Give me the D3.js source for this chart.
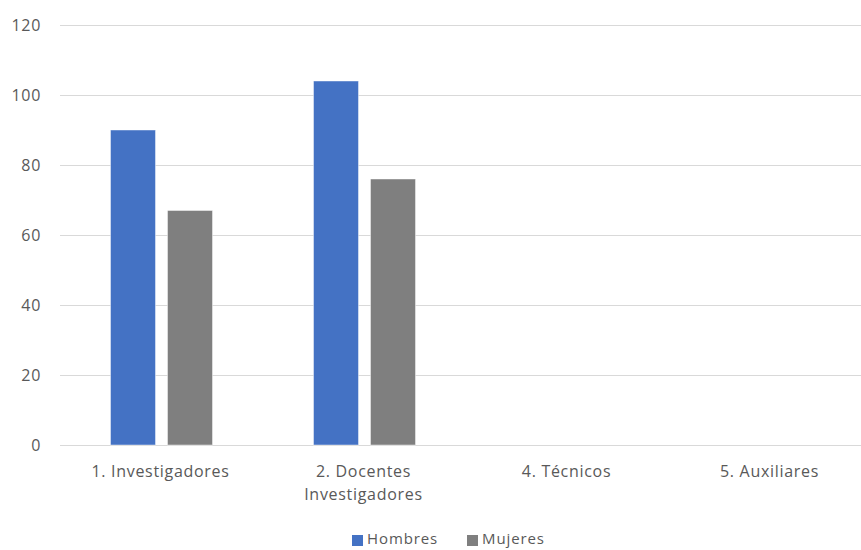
<!DOCTYPE html>
<html><head><meta charset="utf-8">
<script src="https://cdn.jsdelivr.net/npm/d3@7"></script>
<style>body{margin:0;background:#fff}svg{display:block}text{font-family:"Open Sans","Liberation Sans",sans-serif;fill:#595959;letter-spacing:0.7px}</style>
</head><body><svg id="c" width="861" height="550"></svg>
<script>
const categories = [["1. Investigadores"], ["2. Docentes", "Investigadores"], ["4. Técnicos"], ["5. Auxiliares"]];
const categoryKeys = ["1. Investigadores", "2. Docentes Investigadores", "4. Técnicos", "5. Auxiliares"];
const series = ["Hombres", "Mujeres"];
const hombres = [90, 104, null, null];
const mujeres = [67, 76, null, null];
const colors = ["#4472C4", "#7F7F7F"];
const yTicks = [0, 20, 40, 60, 80, 100, 120];

const svg = d3.select("#c");
const y = d3.scaleLinear().domain([0, 120]).range([445, 25]);
const x0 = d3.scaleBand().domain(categoryKeys).range([60, 872]).paddingInner(0.4975).paddingOuter(0.24875);
const x1 = d3.scaleBand().domain(series).range([0, x0.bandwidth()]).paddingInner(0.2105).paddingOuter(0);

// gridlines
svg.append("g").selectAll("line").data(yTicks).join("line")
  .attr("x1", 60).attr("x2", 861)
  .attr("y1", d => Math.round(y(d)) + 0.5).attr("y2", d => Math.round(y(d)) + 0.5)
  .attr("stroke", "#D9D9D9").attr("stroke-width", 1);

// y labels
svg.append("g").selectAll("text").data(yTicks).join("text")
  .attr("x", 41).attr("y", d => y(d)).attr("dy", "0.35em")
  .attr("text-anchor", "end").style("font-size", "16px").text(d => d);

// bars
const data = [hombres, mujeres];
const g = svg.append("g");
series.forEach((s, si) => {
  g.selectAll(".b" + si).data(categoryKeys.map((c, i) => ({c, v: data[si][i]})).filter(d => d.v != null))
    .join("rect")
    .attr("x", d => x0(d.c) + x1(s)).attr("width", x1.bandwidth())
    .attr("y", d => y(d.v)).attr("height", d => y(0) - y(d.v))
    .attr("fill", colors[si]).attr("stroke", "#ffffff").attr("stroke-opacity", 0.6).attr("stroke-width", 0.75);
});

// category labels
categoryKeys.forEach((c, i) => {
  const cx = x0(c) + x0.bandwidth() / 2 - 1;
  const t = svg.append("text").attr("text-anchor", "middle").style("font-size", "16px")
    .attr("x", cx).attr("y", 477);
  categories[i].forEach((line, li) => {
    t.append("tspan").attr("x", cx).attr("dy", li === 0 ? 0 : 23).text(line);
  });
});

// legend
const legendX = [352, 467];
series.forEach((s, si) => {
  svg.append("rect").attr("x", legendX[si]).attr("y", 535).attr("width", 11).attr("height", 11).attr("fill", colors[si]);
  svg.append("text").attr("x", legendX[si] + 15).attr("y", 539).attr("dy", "0.35em")
    .style("font-size", "15px").style("letter-spacing", "0.9px").text(s);
});
</script></body></html>
